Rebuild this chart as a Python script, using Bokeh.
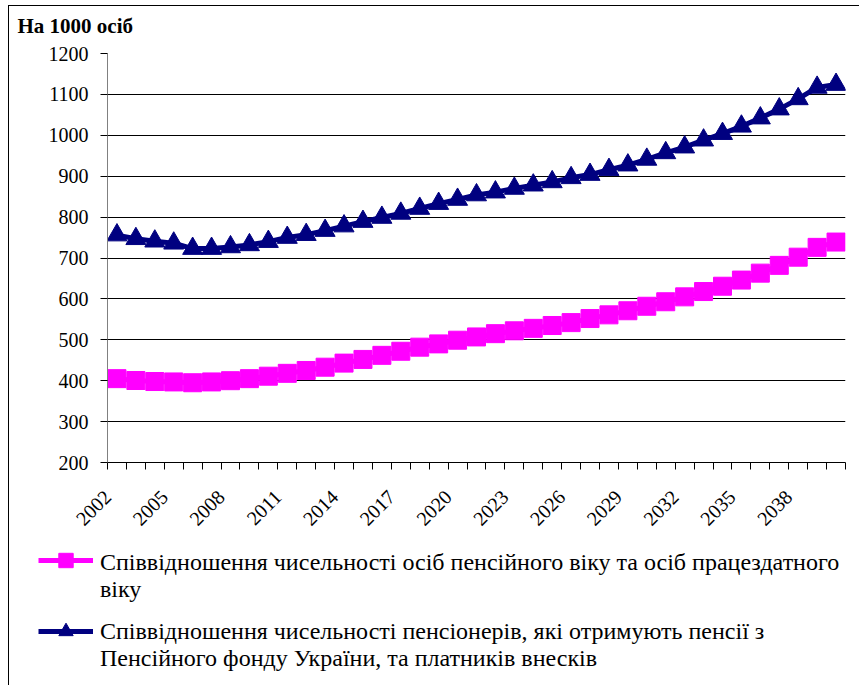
import math
from bokeh.plotting import figure
from bokeh.layouts import column
from bokeh.models import Range1d, FixedTicker, Legend, LegendItem, Label
from bokeh.embed import file_html
from bokeh.resources import INLINE

years = [2002, 2003, 2004, 2005, 2006, 2007, 2008, 2009, 2010, 2011,
         2012, 2013, 2014, 2015, 2016, 2017, 2018, 2019, 2020, 2021,
         2022, 2023, 2024, 2025, 2026, 2027, 2028, 2029, 2030, 2031,
         2032, 2033, 2034, 2035, 2036, 2037, 2038, 2039, 2040]

ratio_age = [405, 400.5, 398, 397, 395, 397, 400, 405, 411, 418,
             425, 433, 443, 452, 462, 472, 482, 490, 499, 507,
             515, 522, 528, 535, 542, 552, 561, 571, 582, 593,
             605, 618, 631, 646, 663, 682, 702, 726, 739]

ratio_pens = [756, 747, 741, 736, 723, 723, 727, 732, 740, 750,
              757, 767, 778, 789, 799, 809, 821, 833, 843, 854,
              861, 870, 878, 886, 896, 904, 916, 927, 941, 957,
              971, 988, 1004, 1022, 1042, 1064, 1089, 1117, 1124]

x_tick_labels = [2002, 2005, 2008, 2011, 2014, 2017, 2020, 2023, 2026, 2029, 2032, 2035, 2038]
y_ticks = [200, 300, 400, 500, 600, 700, 800, 900, 1000, 1100, 1200]

label_age = "Співвідношення чисельності осіб пенсійного віку та осіб працездатного\nвіку"
label_pens = "Співвідношення чисельності пенсіонерів, які отримують пенсії з\nПенсійного фонду України, та платників внесків"
y_title = "На 1000 осіб"

FONT = "Liberation Serif"
PINK = "#FF00FF"
NAVY = "#000080"
W = 850
LABEL_SHIFT = 0.5  # rotated labels sit slightly left of their category
NAN = float("nan")


def bare(fig):
    fig.outline_line_color = None
    fig.background_fill_color = "white"
    fig.border_fill_color = "white"
    fig.frame_align = False


# ---- header with the unit title ----
ph = figure(width=W, height=30, output_backend="svg", toolbar_location=None,
            x_axis_type=None, y_axis_type=None,
            x_range=Range1d(0, 1), y_range=Range1d(0, 1),
            min_border_left=0, min_border_right=0, min_border_top=0, min_border_bottom=0)
bare(ph)
ph.grid.visible = False
ph.add_layout(Label(x=8, y=11, x_units="screen", y_units="screen", text=y_title,
                    text_font=FONT, text_font_size="21px", text_font_style="bold",
                    text_color="black", text_baseline="middle", text_align="left"))

# ---- chart ----
p = figure(width=W, height=508, output_backend="svg", toolbar_location=None,
           x_range=Range1d(years[0] - 0.5, years[-1] + 0.5),
           y_range=Range1d(y_ticks[0], y_ticks[-1]),
           min_border_left=98, min_border_right=14, min_border_top=17, min_border_bottom=82)
bare(p)

xa = p.xaxis[0]
label_pos = [y - LABEL_SHIFT for y in x_tick_labels]
xa.ticker = FixedTicker(ticks=label_pos,
                        minor_ticks=[y - 0.5 for y in years] + [years[-1] + 0.5])
xa.major_label_overrides = {pos: str(y) for pos, y in zip(label_pos, x_tick_labels)}
xa.major_tick_out = 0
xa.major_tick_in = 0
xa.minor_tick_out = 7
xa.minor_tick_in = 0
xa.minor_tick_line_color = "black"
xa.axis_line_color = "black"
xa.major_label_orientation = math.pi / 4
xa.major_label_text_font = FONT
xa.major_label_text_font_size = "20px"
xa.major_label_text_color = "black"
xa.major_label_standoff = 24

ya = p.yaxis[0]
ya.ticker = FixedTicker(ticks=y_ticks)
ya.major_tick_out = 7
ya.major_tick_in = 0
ya.minor_tick_out = 0
ya.minor_tick_in = 0
ya.major_tick_line_color = "black"
ya.axis_line_color = "#808080"
ya.major_label_text_font = FONT
ya.major_label_text_font_size = "20px"
ya.major_label_text_color = "black"
ya.major_label_standoff = 12

p.xgrid.visible = False
p.ygrid.ticker = FixedTicker(ticks=y_ticks[1:])
p.ygrid.grid_line_color = "black"
p.ygrid.grid_line_width = 1

p.line(years, ratio_age, line_color=PINK, line_width=5)
p.scatter(years, ratio_age, marker="square", size=18, fill_color=PINK, line_color=PINK)
p.line(years, ratio_pens, line_color=NAVY, line_width=5)
p.scatter(years, ratio_pens, marker="triangle", size=20, fill_color=NAVY, line_color=NAVY)

# ---- legend (glyph keys aligned with the first line of each label) ----
pl = figure(width=W, height=141, output_backend="svg", toolbar_location=None,
            x_axis_type=None, y_axis_type=None,
            x_range=Range1d(0, 1), y_range=Range1d(0, 1),
            min_border_left=29, min_border_right=0, min_border_top=0, min_border_bottom=0)
bare(pl)
pl.grid.visible = False

g1l = pl.line([NAN], [NAN], line_color=PINK, line_width=5)
g1s = pl.scatter([NAN], [NAN], marker="square", fill_color=PINK, line_color=PINK)
g2l = pl.line([NAN], [NAN], line_color=NAVY, line_width=5)
g2s = pl.scatter([NAN], [NAN], marker="triangle", fill_color=NAVY, line_color=NAVY)


def styled(leg):
    leg.padding = 0
    leg.border_line_color = None
    leg.background_fill_alpha = 0
    leg.label_text_font = FONT
    leg.label_text_font_size = "24px"
    leg.label_text_line_height = 1.1
    leg.label_text_color = "black"
    return leg


texts = styled(Legend(items=[LegendItem(label=label_age, renderers=[g1l, g1s]),
                             LegendItem(label=label_pens, renderers=[g2l, g2s])],
                      location="top_left"))
texts.margin = 5
texts.glyph_width = 0
texts.label_standoff = 57
texts.spacing = 15
pl.add_layout(texts, "center")

keys = styled(Legend(items=[LegendItem(label=" ", renderers=[g1l, g1s]),
                            LegendItem(label=" ", renderers=[g2l, g2s])],
                     location=(0, 36)))
keys.margin = 0
keys.glyph_width = 55
keys.glyph_height = 36
keys.label_standoff = 0
keys.spacing = 35
pl.add_layout(keys, "center")

layout = column(ph, p, pl, spacing=0)
layout.styles = {"margin-left": "8px", "margin-top": "5px",
                 "border-left": "1px solid black", "border-top": "1px solid black"}

open("out.html", "w").write(file_html(layout, INLINE))
